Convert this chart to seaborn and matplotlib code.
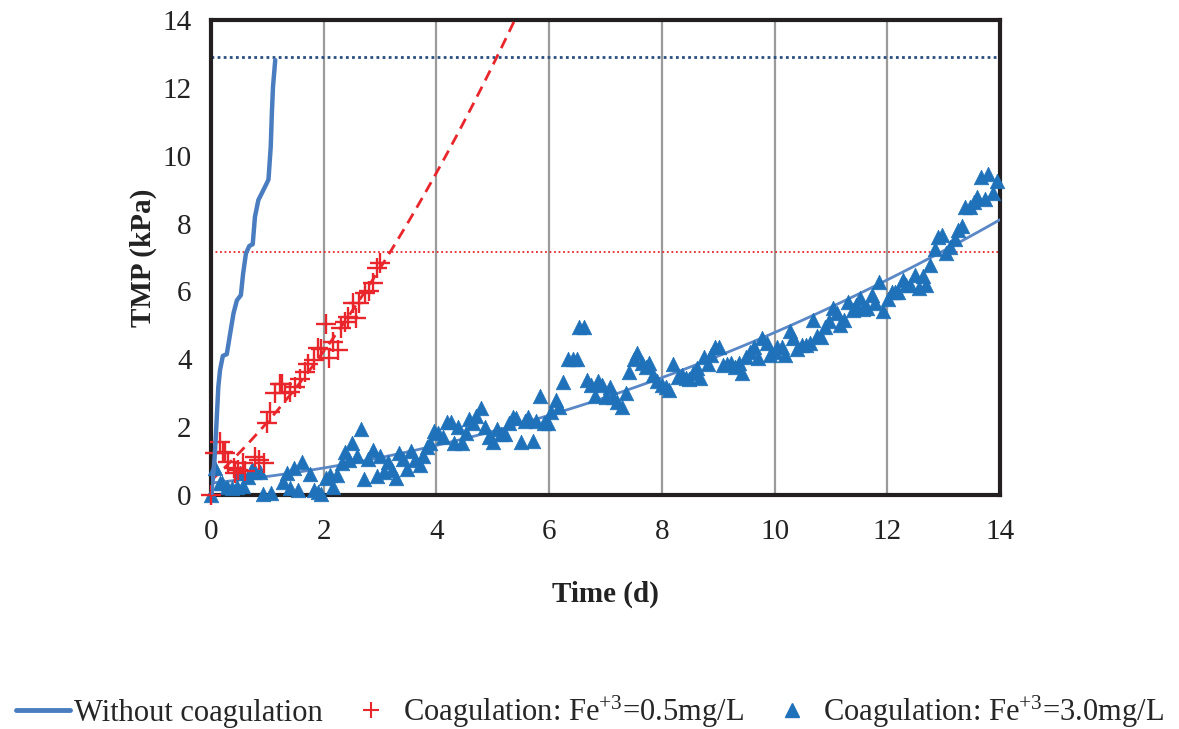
import numpy as np
import pandas as pd
import matplotlib
matplotlib.use("Agg")
import matplotlib.pyplot as plt
from matplotlib.lines import Line2D
import seaborn as sns

# ---------------- data ----------------
no_coag_t = [0.00, 0.04, 0.07, 0.10, 0.13, 0.16, 0.21, 0.28, 0.35, 0.40, 0.46, 0.53,
             0.57, 0.62, 0.68, 0.74, 0.78, 0.84, 0.99, 1.02, 1.06, 1.08, 1.10, 1.14]
no_coag_p = [0.00, 0.60, 1.24, 2.20, 3.19, 3.68, 4.10, 4.15, 4.86, 5.36, 5.74, 5.89,
             6.53, 7.12, 7.34, 7.39, 8.20, 8.69, 9.19, 9.30, 10.27, 11.25, 12.03, 12.82]

fe05_t = [0.00, 0.07, 0.16, 0.22, 0.25, 0.31, 0.40, 0.43, 0.48, 0.57, 0.60, 0.78, 0.85,
          0.94, 0.99, 1.05, 1.14, 1.22, 1.26, 1.31, 1.40, 1.49, 1.58, 1.67, 1.73, 1.82,
          1.90, 1.96, 2.04, 2.10, 2.17, 2.26, 2.31, 2.37, 2.43, 2.52, 2.58, 2.62, 2.74,
          2.81, 2.87, 2.94, 3.00]
fe05_p = [0.00, 1.23, 1.55, 1.28, 1.23, 0.98, 0.80, 0.66, 0.74, 0.93, 0.72, 1.12, 1.03,
          0.93, 2.12, 2.46, 3.00, 3.26, 3.26, 3.00, 3.04, 3.17, 3.42, 3.62, 3.85, 3.98,
          4.32, 4.30, 5.04, 4.03, 4.52, 4.27, 4.91, 5.11, 5.24, 5.65, 5.21, 5.66, 5.94,
          6.00, 6.26, 6.68, 6.83]

fe30_t = [0.00, 0.07, 0.16, 0.19, 0.28, 0.37, 0.46, 0.51, 0.57, 0.66, 0.72, 0.78, 0.87,
          0.93, 1.07, 1.27, 1.34, 1.40, 1.48, 1.55, 1.62, 1.76, 1.82, 1.90, 1.96, 2.04,
          2.11, 2.17, 2.24, 2.32, 2.38, 2.44, 2.51, 2.59, 2.66, 2.72, 2.79, 2.87, 2.94,
          3.00, 3.07, 3.14, 3.21, 3.28, 3.34, 3.41, 3.48, 3.55, 3.62, 3.70, 3.77, 3.83,
          3.89, 3.96, 4.02, 4.11, 4.18, 4.25, 4.31, 4.39, 4.46, 4.52, 4.58, 4.65, 4.71,
          4.79, 4.86, 4.94, 5.00, 5.07, 5.14, 5.22, 5.28, 5.35, 5.42, 5.50, 5.57, 5.63,
          5.71, 5.77, 5.84, 5.91, 5.98, 6.04, 6.12, 6.18, 6.25, 6.34, 6.42, 6.49, 6.53,
          6.61, 6.67, 6.74, 6.81, 6.87, 6.93, 7.01, 7.08, 7.14, 7.21, 7.29, 7.36, 7.42,
          7.50, 7.56, 7.64, 7.72, 7.78, 7.85, 7.92, 8.00, 8.07, 8.13, 8.19, 8.29, 8.35,
          8.43, 8.48, 8.56, 8.62, 8.68, 8.74, 8.81, 8.88, 8.94, 9.02, 9.09, 9.16, 9.22,
          9.30, 9.37, 9.43, 9.50, 9.56, 9.63, 9.71, 9.77, 9.86, 9.92, 10.01, 10.04, 10.13,
          10.18, 10.27, 10.33, 10.40, 10.48, 10.56, 10.63, 10.68, 10.75, 10.82, 10.89,
          10.97, 11.03, 11.10, 11.16, 11.23, 11.31, 11.39, 11.44, 11.52, 11.57, 11.64,
          11.72, 11.79, 11.86, 11.93, 12.02, 12.08, 12.14, 12.19, 12.27, 12.34, 12.41,
          12.49, 12.56, 12.63, 12.69, 12.76, 12.85, 12.90, 12.97, 13.04, 13.11, 13.20,
          13.26, 13.32, 13.38, 13.46, 13.53, 13.59, 13.66, 13.73, 13.79, 13.87, 13.94]
fe30_p = [0.00, 0.80, 0.34, 0.35, 0.25, 0.20, 0.25, 0.64, 0.28, 0.54, 0.76, 0.69, 0.69,
          0.02, 0.05, 0.39, 0.66, 0.20, 0.80, 0.16, 0.97, 0.62, 0.15, 0.08, 0.02, 0.49,
          0.59, 0.23, 0.59, 0.93, 1.26, 1.03, 1.54, 1.15, 1.94, 0.47, 1.05, 1.33, 0.56,
          1.15, 0.69, 0.98, 0.74, 0.49, 1.25, 1.05, 0.76, 1.31, 1.03, 0.88, 1.15, 1.42,
          1.54, 1.90, 1.82, 1.70, 2.16, 2.16, 1.54, 2.01, 1.54, 1.84, 2.23, 2.13, 2.33,
          2.55, 2.01, 1.72, 1.57, 1.94, 1.80, 1.80, 2.11, 2.31, 2.26, 1.57, 2.19, 2.29,
          1.60, 2.19, 2.92, 2.13, 2.11, 2.46, 2.80, 2.60, 3.34, 4.00, 4.00, 4.00, 4.96,
          4.96, 3.39, 3.24, 2.92, 3.37, 3.24, 2.88, 3.17, 2.88, 2.75, 2.60, 3.00, 3.63,
          4.00, 4.19, 3.90, 3.76, 3.88, 3.54, 3.37, 3.24, 3.17, 3.09, 3.86, 3.47, 3.54,
          3.44, 3.41, 3.59, 3.73, 3.44, 4.06, 3.86, 4.13, 4.37, 4.35, 3.83, 3.86, 3.90,
          3.78, 3.90, 3.60, 4.08, 4.22, 4.35, 4.03, 4.62, 4.49, 4.13, 4.22, 4.35, 4.35,
          4.13, 4.84, 4.62, 4.29, 4.42, 4.42, 4.49, 5.16, 4.69, 4.65, 4.96,
          5.14, 5.50, 5.35, 5.01, 5.16, 5.70, 5.45, 5.60, 5.80, 5.47, 5.50,
          5.89, 5.65, 6.29, 5.43, 5.77, 5.99, 5.99, 5.99, 6.34, 6.19, 6.19,
          6.48, 6.09, 6.45, 6.19, 6.78, 7.24, 7.59, 7.66, 7.12, 7.32, 7.56,
          7.81, 7.93, 8.50, 8.50, 8.64, 8.77, 9.38, 8.72, 9.46, 8.91, 9.26]

limit_fe05 = 7.15   # red dotted threshold
limit_none = 12.9   # blue dotted threshold

xticks = [0, 2, 4, 6, 8, 10, 12, 14]
yticks = [0, 2, 4, 6, 8, 10, 12, 14]

labels = ["Without coagulation",
          r"Coagulation: Fe$^{+3}$=0.5mg/L",
          r"Coagulation: Fe$^{+3}$=3.0mg/L"]

# ---------------- style ----------------
sns.set_theme(style="white")
plt.rcParams["font.family"] = ["Liberation Serif", "DejaVu Serif"]
plt.rcParams["mathtext.fontset"] = "custom"
plt.rcParams["mathtext.rm"] = "Liberation Serif"
plt.rcParams["mathtext.it"] = "Liberation Serif:italic"
plt.rcParams["mathtext.bf"] = "Liberation Serif:bold"

c_line = "#4A7DC0"
c_tri = "#1F72BA"
c_red = "#E8262B"
c_navy = "#2A4E80"

fig = plt.figure(figsize=(11.79, 7.29), dpi=100)
ax = fig.add_axes([211/1179, 1-495/729, (1000-211)/1179, (495-20)/729])
ax.set_xlim(0, 14)
ax.set_ylim(0, 14)

df_none = pd.DataFrame({"t": no_coag_t, "p": no_coag_p})
df_05 = pd.DataFrame({"t": fe05_t, "p": fe05_p})
df_30 = pd.DataFrame({"t": fe30_t, "p": fe30_p})

# grid lines
for xv in xticks[1:-1]:
    ax.axvline(xv, color="#9A9A9A", lw=1.6, zorder=0)

# thresholds
ax.axhline(limit_none, color=c_navy, lw=2.0, ls=(0, (1, 1.2)), zorder=1)
ax.axhline(limit_fe05, color=c_red, lw=1.3, ls=(0, (1, 1.5)), zorder=1)

# trendlines (2nd order, like Excel)
sns.regplot(data=df_30, x="t", y="p", order=2, ci=None, scatter=False, truncate=False,
            ax=ax, line_kws=dict(color="#5A87C6", lw=2.0, zorder=3))
sns.regplot(data=df_05, x="t", y="p", order=2, ci=None, scatter=False, truncate=False,
            ax=ax, line_kws=dict(color=c_red, lw=2.0, ls=(0, (4, 2.5)), zorder=3))

# data
sns.scatterplot(data=df_30, x="t", y="p", marker="^", s=110, color=c_tri,
                edgecolor=c_tri, linewidth=0.5, ax=ax, zorder=4, clip_on=False)
sns.scatterplot(data=df_05, x="t", y="p", marker="+", s=200, color=c_red,
                linewidth=1.7, ax=ax, zorder=5, clip_on=False)
sns.lineplot(data=df_none, x="t", y="p", sort=False, color=c_line, lw=3.2,
             ax=ax, zorder=6)

ax.set_xlim(0, 14)
ax.set_ylim(0, 14)
ax.set_xticks(xticks)
ax.set_yticks(yticks)
ax.tick_params(axis="x", length=0, pad=17, labelsize=21, colors="#222222")
ax.tick_params(axis="y", length=0, pad=14, labelsize=21, colors="#222222")
ax.set_xlabel("Time (d)", fontsize=21, fontweight="bold", labelpad=26, color="#222222")
ax.set_ylabel("TMP (kPa)", fontsize=21, fontweight="bold", labelpad=4, color="#222222")
for sp in ax.spines.values():
    sp.set_color("#231F20")
    sp.set_linewidth(3.0)
    sp.set_visible(True)

handles = [Line2D([], [], color=c_line, lw=3.5),
           Line2D([], [], color=c_red, marker="+", ls="", ms=12, mew=1.5),
           Line2D([], [], color=c_tri, marker="^", ls="", ms=10)]
fig.legend(handles, labels, loc="center", bbox_to_anchor=(590/1179, 1-712/729), ncol=3,
           frameon=False, fontsize=22, handlelength=1.75, handletextpad=0.15,
           columnspacing=0.7)

fig.savefig("out.png", dpi=100)
